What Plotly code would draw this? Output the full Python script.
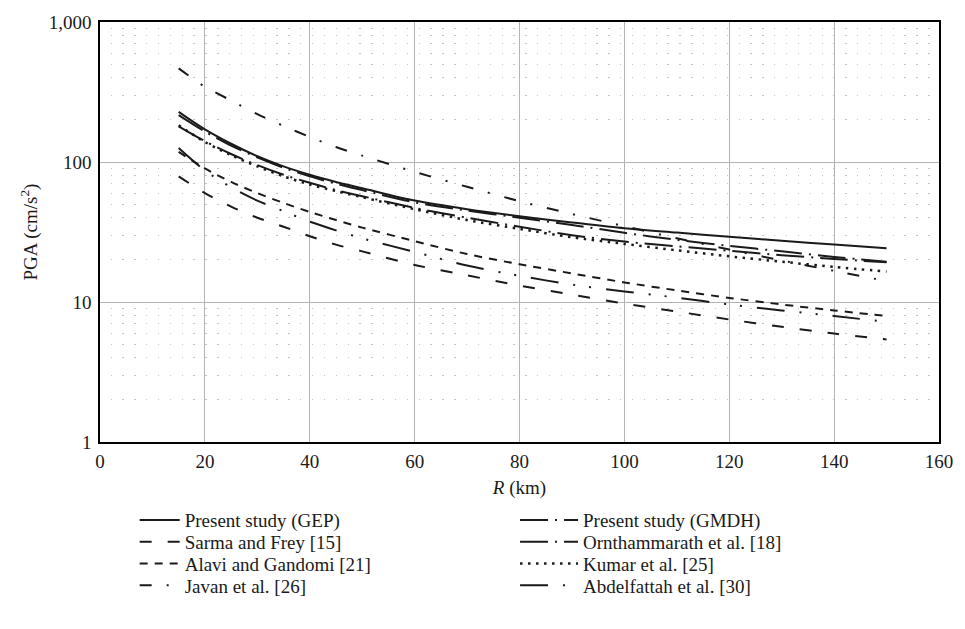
import plotly.graph_objects as go

# ---- data ----
R_km = [15, 20, 25, 30, 35, 40, 45, 50, 60, 70, 80, 90, 100, 110, 120, 130, 140, 150]

gep = [228, 171, 135, 110, 93, 81, 72, 65, 53, 46, 41, 37, 33.6, 31.3, 29.2, 27.4, 25.7, 24.2]
gmdh = [216, 165, 131, 108, 91, 79, 70, 63, 51.5, 45, 40, 35.5, 31.2, 27.8, 25.2, 23, 21, 19.4]
sarma = [79, 60, 48, 40, 34.5, 29.5, 25.7, 23, 18.4, 15.5, 13.1, 11.3, 9.75, 8.55, 7.5, 6.65, 5.95, 5.4]
ornth = [180, 141, 114, 95, 81, 71, 63, 57, 47, 40, 34.5, 30, 27, 25, 23.2, 21.6, 20.3, 19.2]
alavi = [118, 90, 72, 60, 51, 44, 38.5, 34, 27.2, 22, 18.6, 16, 13.8, 12.1, 10.7, 9.6, 8.7, 7.95]
kumar = [183, 139, 112, 93, 79, 69, 62, 56, 46, 38.5, 33.3, 29, 26, 23.4, 21.2, 19.4, 17.8, 16.5]
javan = [466, 345, 275, 220, 181, 151, 128, 111, 85, 66.5, 52.5, 42.5, 34.8, 28.5, 23.7, 19.8, 16.7, 14.1]
abdel = [126, 87, 66, 53, 44.5, 37.5, 32.5, 28.5, 22.8, 18.2, 15.4, 13.3, 11.9, 10.75, 9.6, 8.7, 7.95, 7.2]

names = ["Present study (GEP)", "Sarma and Frey [15]", "Alavi and Gandomi [21]", "Javan et al. [26]",
         "Present study (GMDH)", "Ornthammarath et al. [18]", "Kumar et al. [25]", "Abdelfattah et al. [30]"]
series = [gep, sarma, alavi, javan, gmdh, ornth, kumar, abdel]

x_ticks = [0, 20, 40, 60, 80, 100, 120, 140, 160]
y_ticks = [1, 10, 100, 1000]
y_ticktext = ["1", "10", "100", "1,000"]

# ---- styles ----
dashes = ["solid", "12px,16px", "8px,7px", "12px,15px,2px,15px",
          "28px,7px,2px,7px", "28px,7px,2px,7px", "2.5px,5.5px", "28px,15px,2px,14px,2px,15px"]
widths = [2, 2, 2, 2, 2, 2, 2.5, 2]
FONT = "Liberation Serif, Times New Roman, DejaVu Serif, serif"
INK = "#1a1a1a"

W, H = 965, 629
L, Rm, T, B = 100, 18, 17, 187
pw, ph = W - L - Rm, H - T - B

def px2paper_x(px):
    return (px - L) / pw

def py2paper_y(py):
    return (H - B - py) / ph

left_x = px2paper_x(135)
right_x = px2paper_x(519)
rows_y = [521, 543, 565, 587]

fig = go.Figure()
for i, (nm, ys) in enumerate(zip(names, series)):
    leg = "legend" if i == 0 else f"legend{i+1}"
    fig.add_trace(go.Scatter(
        x=R_km, y=ys, mode="lines", name=nm,
        line=dict(color=INK, width=widths[i], dash=dashes[i], shape="spline", smoothing=0.8),
        legend=leg, hoverinfo="skip"))

layout_legends = {}
for i in range(8):
    key = "legend" if i == 0 else f"legend{i+1}"
    left = i < 4
    layout_legends[key] = dict(
        x=left_x if left else right_x, y=py2paper_y(rows_y[i % 4]),
        xanchor="left", yanchor="middle",
        itemwidth=40 if left else 58,
        bgcolor="rgba(0,0,0,0)", borderwidth=0,
        font=dict(family=FONT, size=19, color=INK))

fig.update_layout(
    width=W, height=H,
    margin=dict(l=L, r=Rm, t=T, b=B),
    paper_bgcolor="white", plot_bgcolor="white",
    font=dict(family=FONT, size=19, color=INK),
    showlegend=True,
    **layout_legends,
)

fig.update_xaxes(
    range=[0, 160], tickvals=x_ticks, ticks="outside", ticklen=1, tickcolor="rgba(0,0,0,0)",
    showgrid=True, gridcolor="#b3b3b3", gridwidth=1.3,
    showline=True, linecolor="black", linewidth=1.5, mirror=True,
    zeroline=False,
    title=dict(text="<i>R</i> (km)", font=dict(family=FONT, size=19), standoff=10),
    tickfont=dict(family=FONT, size=19),
)
fig.update_yaxes(
    type="log", range=[0, 3], tickvals=y_ticks, ticktext=y_ticktext,
    ticks="outside", ticklen=3, tickcolor="rgba(0,0,0,0)",
    showgrid=True, gridcolor="#b3b3b3", gridwidth=1.3,
    showline=True, linecolor="black", linewidth=1.5, mirror=True,
    zeroline=False,
    minor=dict(tickvals=[m * d for d in (1, 10, 100) for m in range(2, 10)],
               showgrid=True, gridcolor="#c4c4c4", gridwidth=1.3, griddash="0px,10.5px,1.35px,0px",
               ticks=""),
    title=dict(text="PGA (cm/s<sup>2</sup>)", font=dict(family=FONT, size=19), standoff=6),
    tickfont=dict(family=FONT, size=19),
)

fig.write_html("out.html",
               config={"displayModeBar": False},
               post_script="document.body.style.margin='0';document.body.style.padding='0';")
